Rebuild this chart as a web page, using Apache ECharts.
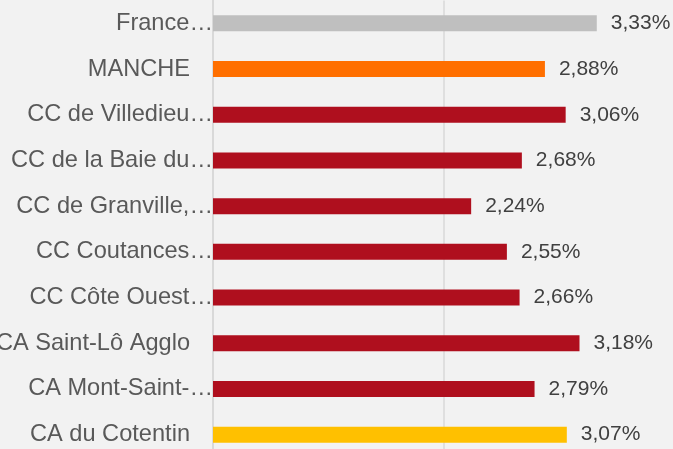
<!DOCTYPE html>
<html>
<head>
<meta charset="utf-8">
<script src="https://cdn.jsdelivr.net/npm/echarts@6/dist/echarts.min.js"></script>
<style>
    html, body { margin: 0; padding: 0; background: #f2f2f2; }
    #chart { width: 673px; height: 449px; }
</style>
</head>
<body>
<div id="chart"></div>
<script>
    // libellés (tronqués comme dans le graphique d'origine)
    var categories = ['France…', 'MANCHE', 'CC de Villedieu…', 'CC de la Baie du…', 'CC de Granville,…',
        'CC Coutances…', 'CC Côte Ouest…', 'CA Saint-Lô Agglo', 'CA Mont-Saint-…', 'CA du Cotentin'];
    var values = [3.33, 2.88, 3.06, 2.68, 2.24, 2.55, 2.66, 3.18, 2.79, 3.07];
    var xTicks = [0, 2, 4];

    // couleurs des barres
    var barColors = ['#bfbfbf', '#ff6f00', '#af0f1e', '#af0f1e', '#af0f1e',
        '#af0f1e', '#af0f1e', '#af0f1e', '#af0f1e', '#ffc000'];

    var myChart = echarts.init(document.getElementById('chart'));

    var option = {
        backgroundColor: '#f2f2f2',
        animation: false,
        grid: {
            left: 213,
            right: -1,
            top: 0.5,
            bottom: -8.5,
            containLabel: false,
            outerBoundsMode: 'none'
        },
        xAxis: {
            type: 'value',
            min: xTicks[0],
            max: xTicks[xTicks.length - 1],
            interval: xTicks[1] - xTicks[0],
            axisLabel: { show: false },
            axisLine: { show: false },
            axisTick: { show: false },
            splitLine: { show: true, lineStyle: { color: '#d9d9d9', width: 1.5 } }
        },
        yAxis: {
            type: 'category',
            inverse: true,
            data: categories,
            axisTick: { show: false },
            axisLine: { show: true, lineStyle: { color: '#d9d9d9', width: 2 } },
            axisLabel: {
                margin: 0,
                fontFamily: 'Liberation Sans',
                fontSize: 23.6,
                color: '#595959',
                // les libellés non tronqués s'arrêtent avant la place du "…"
                formatter: function (v) {
                    return v.endsWith('…') ? v : v + '{s| }';
                },
                rich: {
                    s: { width: 23, fontSize: 23.6 }
                }
            }
        },
        series: [{
            type: 'bar',
            barWidth: 16,
            data: values.map(function (v, i) {
                return { value: v, itemStyle: { color: barColors[i] } };
            }),
            label: {
                show: true,
                position: 'right',
                distance: 14,
                fontFamily: 'Liberation Sans',
                fontSize: 21,
                color: '#404040',
                formatter: function (p) {
                    return p.value.toFixed(2).replace('.', ',') + '%';
                }
            }
        }]
    };

    myChart.setOption(option);
</script>
</body>
</html>
